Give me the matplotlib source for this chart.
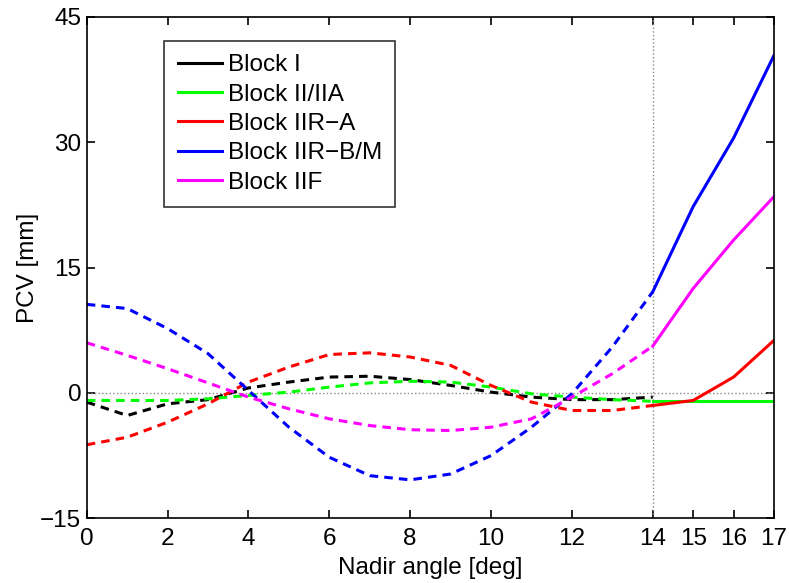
import matplotlib
matplotlib.use("Agg")
import matplotlib.pyplot as plt
from matplotlib.lines import Line2D

plt.rcParams['font.family'] = ['Liberation Sans', 'DejaVu Sans']

# nadir angles [deg]
x = list(range(18))

labels = ['Block I', 'Block II/IIA', 'Block IIR\u2212A', 'Block IIR\u2212B/M', 'Block IIF']
colors = ['black', '#00ff00', 'red', 'blue', 'magenta']

# PCV values [mm] at 0..17 deg (Block I only up to 14 deg)
pcv_I = [-1.1, -2.7, -1.3, -0.8, 0.6, 1.3, 1.9, 2.0, 1.6, 0.9, 0.1, -0.5, -0.8, -0.8, -0.5]
pcv_II = [-0.9, -0.9, -0.9, -0.7, -0.3, 0.1, 0.7, 1.2, 1.4, 1.3, 0.7, -0.1, -0.5, -0.8, -1.0,
          -1.0, -1.0, -1.0]
pcv_IIRA = [-6.2, -5.3, -3.5, -1.3, 1.3, 3.1, 4.6, 4.8, 4.3, 3.3, 0.9, -1.1, -2.1, -2.1, -1.5,
            -0.9, 1.9, 6.3]
pcv_IIRB = [10.6, 10.1, 7.7, 4.7, 0.3, -4.1, -7.7, -9.9, -10.4, -9.7, -7.5, -4.1, -0.1, 5.5, 12.1,
            22.3, 30.5, 40.4]
pcv_IIF = [6.0, 4.5, 2.9, 1.2, -0.5, -1.9, -3.1, -3.9, -4.4, -4.5, -4.1, -3.1, -0.5, 2.3, 5.6,
           12.5, 18.3, 23.5]

series = [pcv_I, pcv_II, pcv_IIRA, pcv_IIRB, pcv_IIF]

fs = 17.5

fig = plt.figure(figsize=(7.89, 5.83), dpi=100)
ax = fig.add_axes([0.110, 0.111, 0.871, 0.860])

ax.axhline(0, color='#888888', linestyle=':', linewidth=1)
ax.axvline(14, color='#888888', linestyle=':', linewidth=1)

for vals, c in zip(series, colors):
    # dashed part up to 14 deg, solid beyond
    ax.plot(x[:15], vals[:15], color=c, linewidth=2.2, linestyle=(0, (2.8, 2.0)))
    if len(vals) > 15:
        ax.plot(x[14:len(vals)], vals[14:], color=c, linewidth=2.2, linestyle='-')

ax.set_xlim(0, 17)
ax.set_ylim(-15, 45)
ax.set_xticks([0, 2, 4, 6, 8, 10, 12, 14, 15, 16, 17])
ax.set_yticks([-15, 0, 15, 30, 45])
ax.set_yticklabels(['\u221215', '0', '15', '30', '45'])
ax.tick_params(direction='in', top=True, right=True, labelsize=fs, length=6, width=1.2)
ax.tick_params(axis='x', pad=7)
ax.tick_params(axis='y', pad=4)
for s in ax.spines.values():
    s.set_linewidth(1.2)

ax.set_xlabel('Nadir angle [deg]', fontsize=fs, labelpad=5)
ax.set_ylabel('PCV [mm]', fontsize=fs, labelpad=1)

handles = [Line2D([0], [0], color=c, linewidth=2.2) for c in colors]
leg = ax.legend(handles, labels, loc='upper left', bbox_to_anchor=(0.113, 0.952),
                fontsize=fs, frameon=True, fancybox=False, handlelength=1.8,
                handletextpad=0.25, labelspacing=0.3, borderpad=0.55, borderaxespad=0)
leg.get_frame().set_edgecolor('black')
leg.get_frame().set_linewidth(1.2)

fig.savefig('out.png', dpi=100)
